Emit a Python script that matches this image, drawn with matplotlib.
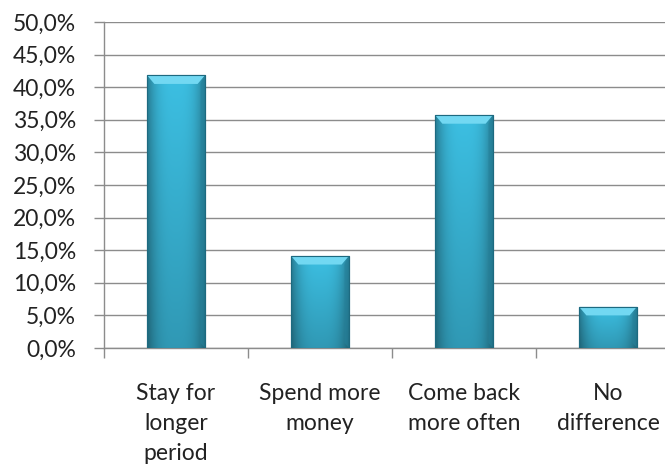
import matplotlib
matplotlib.use("Agg")
import matplotlib.pyplot as plt
import numpy as np
from matplotlib.patches import Polygon
from matplotlib.ticker import FuncFormatter

categories = ["Stay for\nlonger\nperiod", "Spend more\nmoney", "Come back\nmore often", "No\ndifference"]
values = [41.8, 14.1, 35.7, 6.3]
y_ticks = [0, 5, 10, 15, 20, 25, 30, 35, 40, 45, 50]

plt.rcParams["font.family"] = ["Lato", "DejaVu Sans"]

fig = plt.figure(figsize=(6.65, 4.68), dpi=100)
ax = fig.add_axes([104 / 665, 1 - 348 / 468, 576 / 665, 326 / 468])

x = np.arange(len(categories))
width = 0.40
bars = ax.bar(x, values, width=width, color="#35a9c9", edgecolor="#1d6a80",
              linewidth=0.8, zorder=3)

# gradient fill: darker at the sides, lighter at the top
cx = np.linspace(-1, 1, 64)
side = 1 - 0.35 * np.abs(cx) ** 3
for b in bars:
    x0, w, h = b.get_x(), b.get_width(), b.get_height()
    ys = np.linspace(0, 1, 64)[:, None]
    shade = side[None, :] * (0.80 + 0.20 * ys)
    top = np.array([0x3c, 0xbf, 0xe2]) / 255
    img = np.clip(shade[..., None] * top[None, None, :], 0, 1)
    im = ax.imshow(img, extent=(x0, x0 + w, 0, h), origin="lower",
                   aspect="auto", zorder=3.5, interpolation="bilinear")
    im.set_clip_path(b)
    # bevel on top
    bx = 0.05
    by = 1.3
    ax.add_patch(Polygon([(x0, h), (x0 + w, h), (x0 + w - bx, h - by), (x0 + bx, h - by)],
                         closed=True, facecolor="#72d8f2", edgecolor="none", zorder=4))
    ax.add_patch(Polygon([(x0 + w, h), (x0 + w, 0), (x0 + w - bx * 0.6, by * 0.6),
                          (x0 + w - bx * 0.6, h - by)],
                         closed=True, facecolor="#25819b", edgecolor="none", alpha=0.6, zorder=4))
    ax.add_patch(Polygon([(x0, h), (x0 + w, h), (x0 + w, 0), (x0, 0)], closed=True,
                         facecolor="none", edgecolor="#1d6a80", linewidth=0.8, zorder=4.5))

ax.set_xlim(-0.5, len(categories) - 0.5)
ax.set_ylim(0, 50)
ax.set_yticks(y_ticks)
ax.yaxis.set_major_formatter(FuncFormatter(lambda v, p: f"{v:.1f}%".replace(".", ",")))
ax.yaxis.grid(True, color="#8c8c8c", linewidth=1.0, zorder=0)
ax.set_axisbelow(True)

ax.set_xticks(x)
ax.set_xticklabels(categories, fontsize=16.5, linespacing=1.55)
ax.set_xticks(np.arange(len(categories) + 1) - 0.5, minor=True)
ax.tick_params(axis="x", which="major", length=0, pad=25)
ax.tick_params(axis="x", which="minor", length=7, color="#8c8c8c", width=1)
ax.tick_params(axis="y", length=7, color="#8c8c8c", width=1, labelsize=16.5, pad=13,
               labelcolor="#222222")
ax.tick_params(axis="x", labelcolor="#222222")

for s in ["top", "right"]:
    ax.spines[s].set_visible(False)
for s in ["left", "bottom"]:
    ax.spines[s].set_color("#8c8c8c")
    ax.spines[s].set_linewidth(1.0)

fig.savefig("out.png", dpi=100)
